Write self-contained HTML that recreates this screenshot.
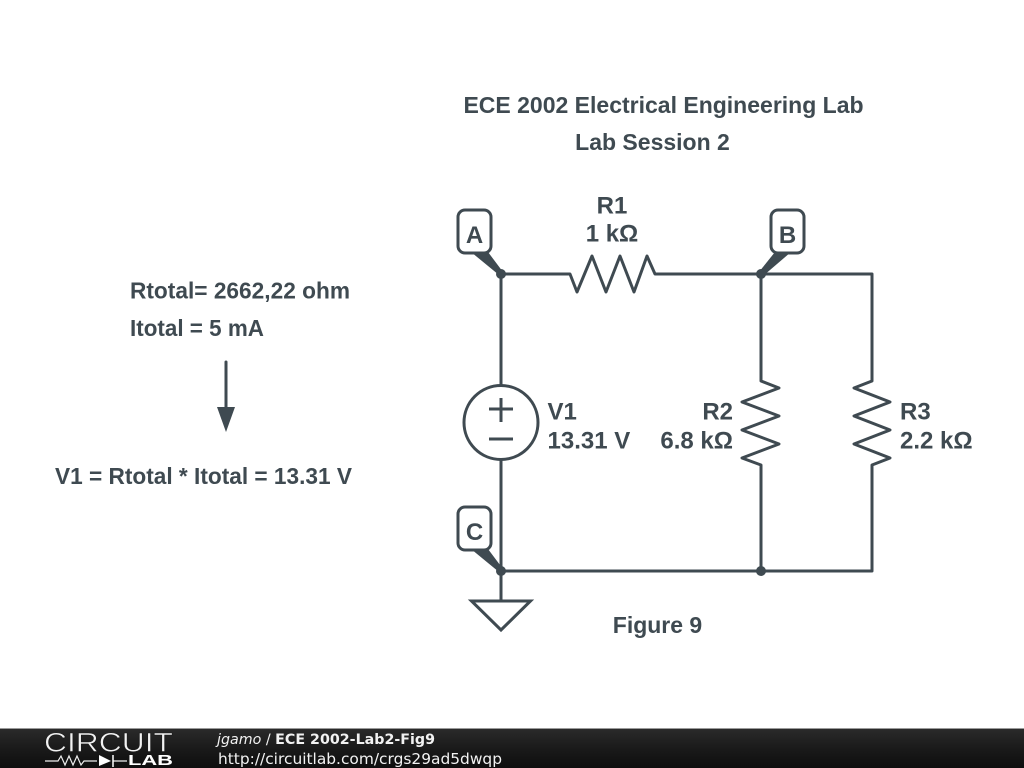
<!DOCTYPE html>
<html><head><meta charset="utf-8"><style>
html,body{margin:0;padding:0;background:#fff;width:1024px;height:768px;overflow:hidden}
svg{display:block}
.t{font-family:"Liberation Sans",sans-serif;font-weight:bold;font-size:23px;fill:#3f4a51}
.u{font-family:"Liberation Sans",sans-serif;font-weight:bold;font-size:24px;fill:#3f4a51}
.w{fill:none;stroke:#3f4a51;stroke-width:3}
</style></head><body>
<svg width="1024" height="768" viewBox="0 0 1024 768" xmlns="http://www.w3.org/2000/svg">
<defs><linearGradient id="g" x1="0" y1="0" x2="0" y2="1"><stop offset="0" stop-color="#2a2a2a"/><stop offset="0.5" stop-color="#1a1a1a"/><stop offset="1" stop-color="#0e0e0e"/></linearGradient></defs>
<rect width="1024" height="768" fill="#fff"/>

<text class="t" x="663.5" y="113" text-anchor="middle">ECE 2002 Electrical Engineering Lab</text>
<text class="t" x="652.500" y="150" text-anchor="middle">Lab Session 2</text>
<text class="u" x="612" y="213.500" text-anchor="middle">R1</text>
<text class="u" x="612" y="241.500" text-anchor="middle">1 kΩ</text>
<text class="u" x="547.500" y="419.500">V1</text>
<text class="u" x="547.500" y="448.500">13.31 V</text>
<text class="u" x="733" y="419.500" text-anchor="end">R2</text>
<text class="u" x="733" y="448.500" text-anchor="end">6.8 kΩ</text>
<text class="u" x="900" y="419.500">R3</text>
<text class="u" x="900" y="448.500">2.2 kΩ</text>
<text class="t" x="657.5" y="633" text-anchor="middle">Figure 9</text>
<text class="t" x="130" y="298.500" textLength="220" lengthAdjust="spacingAndGlyphs">Rtotal= 2662,22 ohm</text>
<text class="t" x="130" y="336" textLength="134" lengthAdjust="spacingAndGlyphs">Itotal = 5 mA</text>
<text class="t" x="55" y="484" textLength="297" lengthAdjust="spacingAndGlyphs">V1 = Rtotal * Itotal = 13.31 V</text>

<path class="w" d="M226 362V408" stroke-linecap="round"/>
<path d="M217 407H235L226 432Z" fill="#3f4a51"/>

<path class="w" stroke-linejoin="round" d="M501 274H570L577 292L592 256L606 292L620 256L634 292L647 256L655 274H761"/>
<path class="w" stroke-linejoin="round" d="M761 274H872V381L854 388L890 402L854 416L890 430L854 444L890 458L872 465V571H501"/>
<path class="w" stroke-linejoin="round" d="M761 274V381L779 388L742 402L779 416L742 430L779 444L742 458L761 465V571"/>
<path class="w" d="M501 274V385M501 460V601"/>
<circle class="w" cx="501" cy="422.5" r="37"/>
<path class="w" d="M489 409H513M501 398V422M489 439H513"/>
<path class="w" stroke-linejoin="miter" d="M471.500 601H530.500L501 630Z"/>

<path d="M471 252L488 252L503 272L499 275Z" fill="#3f4a51"/>
<path d="M775 252L791 252L763 276L759 272Z" fill="#3f4a51"/>
<path d="M471 549L488 549L503 569L499 572Z" fill="#3f4a51"/>
<circle cx="501" cy="274" r="5" fill="#3f4a51"/>
<circle cx="761" cy="274" r="5" fill="#3f4a51"/>
<circle cx="501" cy="571" r="5" fill="#3f4a51"/>
<circle cx="761" cy="571" r="5" fill="#3f4a51"/>

<rect x="458" y="210" width="33" height="43" rx="7" fill="#fff" stroke="#3f4a51" stroke-width="3"/>
<rect x="771" y="210" width="33" height="43" rx="7" fill="#fff" stroke="#3f4a51" stroke-width="3"/>
<rect x="458" y="507" width="33" height="43" rx="7" fill="#fff" stroke="#3f4a51" stroke-width="3"/>
<text class="u" x="474.500" y="243" text-anchor="middle">A</text>
<text class="u" x="787.500" y="243" text-anchor="middle">B</text>
<text class="u" x="474.500" y="540" text-anchor="middle">C</text>

<rect x="0" y="729" width="1024" height="39" fill="url(#g)"/>
<rect x="0" y="728" width="1024" height="1" fill="#9a9a9a"/>
<text x="44" y="751.500" font-family="Liberation Sans,sans-serif" font-size="27" fill="#f2f2f2" stroke="#1c1c1c" stroke-width="0.6" textLength="129" lengthAdjust="spacingAndGlyphs">CIRCUIT</text>
<path d="M45 761H58L61 756L65 765L69 756L73 765L77 756L81 765L84 761H97M113 761H127" fill="none" stroke="#eee" stroke-width="1.200"/>
<path d="M99 755V766L111 761Z" fill="#fff"/>
<path d="M113 755V767" stroke="#fff" stroke-width="1.500"/>
<text x="128" y="765" font-family="Liberation Sans,sans-serif" font-weight="bold" font-size="15" fill="#fff" textLength="45" lengthAdjust="spacingAndGlyphs">LAB</text>
<text x="217" y="744" font-family="DejaVu Sans,sans-serif" font-size="14.500" fill="#f2f2f2" textLength="218" lengthAdjust="spacingAndGlyphs"><tspan font-style="italic">jgamo</tspan> / <tspan font-weight="bold">ECE 2002-Lab2-Fig9</tspan></text>
<text x="218" y="764" font-family="DejaVu Sans,sans-serif" font-size="15.400" fill="#f2f2f2" textLength="284" lengthAdjust="spacingAndGlyphs">http://circuitlab.com/crgs29ad5dwqp</text>
</svg>
</body></html>
